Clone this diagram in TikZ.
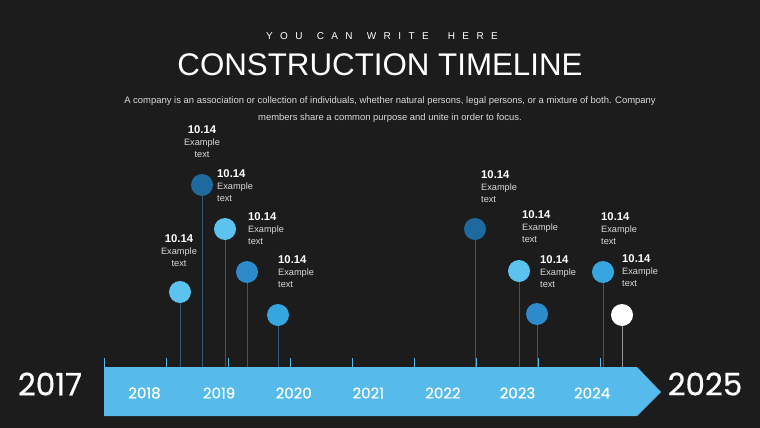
\documentclass[tikz,border=0pt]{standalone}
\usepackage{fontspec}
\setmainfont{Liberation Sans}
\newfontfamily\pop{Poppins}[FakeBold=0.6]
\newfontfamily\spaced{Liberation Sans}[LetterSpace=74]
\usetikzlibrary{calc}
\definecolor{bg}{HTML}{1C1C1C}
\definecolor{barblue}{HTML}{56BBEA}
\definecolor{cLight}{HTML}{5BC3EE}
\definecolor{cDark}{HTML}{1E6A9E}
\definecolor{cMid}{HTML}{2B8BCB}
\definecolor{cBlue}{HTML}{35A6DF}
\definecolor{stemc}{HTML}{2E5A78}
\definecolor{graytext}{HTML}{DADADA}
\newcommand\lbltext{{\fontsize{11.3}{12}\selectfont\bfseries 10.14}\\{\color{graytext}Example}\\{\color{graytext}text}}
\begin{document}
\begin{tikzpicture}[x=1pt,y=-1pt,
  pin/.style={circle, minimum size=22pt, inner sep=0pt},
  stem/.style={stemc, line width=1pt},
  lbl/.style={align=left, inner sep=0pt, text=white, font=\fontsize{9.2}{12}\selectfont, anchor=north west},
  lblc/.style={lbl, align=center, anchor=north},
  yr/.style={font=\pop\fontsize{15}{18}\selectfont, text=white, inner sep=0pt},
  big/.style={font=\pop\fontsize{31}{36}\selectfont, text=white, inner sep=0pt},
  tickmark/.style={barblue, line width=1pt}]
\fill[bg] (0,0) rectangle (760,428);
\useasboundingbox (0,0) rectangle (760,428);
% header
\node[font=\fontsize{10}{11}\selectfont\spaced, text=white, anchor=base, inner sep=0pt] (hdr) at (382,40) {YOU\hspace{4pt} CAN\hspace{4pt} WRITE\hspace{9pt} HERE};
\node[font=\fontsize{31.3}{38}\selectfont, text=white, anchor=base, inner sep=0pt] (title) at (380,75) {CONSTRUCTION TIMELINE};
\node[font=\fontsize{9.45}{17}\selectfont, text=graytext, align=center, anchor=north, inner sep=0pt] (para) at (390,96)
  {A company is an association or collection of individuals, whether natural persons, legal persons, or a mixture of both. Company\\members share a common purpose and unite in order to focus.};
% bar
\coordinate (bt) at (104,367);
\fill[barblue] (bt) -- (637,367) -- (661,392) -- (637,416) -- (104,416) -- cycle;
\foreach \k in {0,...,8} {\draw[tickmark] (104+62*\k,358) -- (104+62*\k,367);}
\node[yr] (y18) at (144.5,393) {2018};
\node[yr] (y19) at (219.1,393) {2019};
\node[yr] (y20) at (293.7,393) {2020};
\node[yr] (y21) at (368.3,393) {2021};
\node[yr] (y22) at (442.9,393) {2022};
\node[yr] (y23) at (517.5,393) {2023};
\node[yr] (y24) at (592.1,393) {2024};
\node[big] (y17) at (50,384) {2017};
\node[big] (y25) at (705,384) {2025};
% pins
\node[pin, fill=cLight] (pA) at (180,292) {};
\node[pin, fill=cDark]  (pB) at (202,185) {};
\node[pin, fill=cLight] (pC) at (225,229) {};
\node[pin, fill=cMid]   (pD) at (247,272) {};
\node[pin, fill=cBlue]  (pE) at (278,315) {};
\node[pin, fill=cDark]  (pF) at (475,229) {};
\node[pin, fill=cLight] (pG) at (519,271) {};
\node[pin, fill=cMid]   (pH) at (537,314) {};
\node[pin, fill=cBlue]  (pI) at (603,272) {};
\node[pin, fill=white]  (pJ) at (622,315) {};
\foreach \p in {pA,pB,pC,pD,pE,pF,pG,pH,pI} {\draw[stem] (\p.south) -- (\p |- bt);}
\draw[line width=1pt, color=gray!80] (pJ.south) -- (pJ |- bt);
% labels
\node[lblc] (lA) at ($(pA)+(-1,-58)$) {\lbltext};
\node[lblc] (lB) at ($(pB)+(0,-60)$) {\lbltext};
\node[lbl] (lC) at ($(pC)+(-8,-60)$) {\lbltext};
\node[lbl] (lD) at ($(pD)+(1,-60)$) {\lbltext};
\node[lbl] (lE) at ($(pE)+(0,-60)$) {\lbltext};
\node[lbl] (lF) at ($(pF)+(6,-59)$) {\lbltext};
\node[lbl] (lG) at ($(pG)+(3,-61)$) {\lbltext};
\node[lbl] (lH) at ($(pH)+(3,-59)$) {\lbltext};
\node[lbl] (lI) at ($(pI)+(-2,-60)$) {\lbltext};
\node[lbl] (lJ) at ($(pJ)+(0,-61)$) {\lbltext};
\end{tikzpicture}
\end{document}
